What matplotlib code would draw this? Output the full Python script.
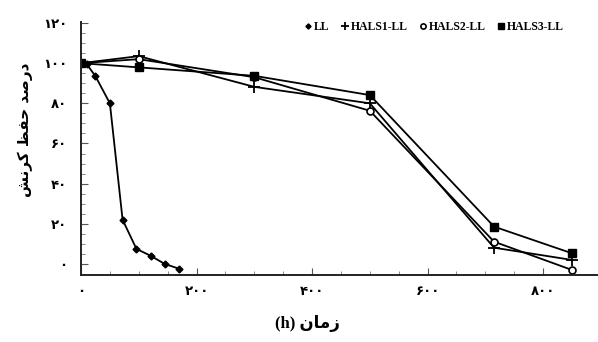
import matplotlib
matplotlib.use('Agg')
import matplotlib.pyplot as plt
from matplotlib.ticker import MultipleLocator

# data
ll_x = [0, 10, 25, 50, 72, 96, 121, 145, 169]
ll_y = [100, 99.5, 93.5, 80, 22, 7.5, 4, 0, -2.3]

hals_x = [0, 100, 300, 500, 715, 850]
hals1_y = [100, 103.5, 88.2, 80, 8.1, 2]
hals2_y = [100, 102, 93, 76.3, 11.1, -3]
hals3_y = [100, 97.9, 93.7, 84.1, 18.6, 5.3]

series_names = ['LL', 'HALS1-LL', 'HALS2-LL', 'HALS3-LL']

x_ticks = [0, 200, 400, 600, 800]
x_tick_labels = ['۰', '۲۰۰', '۴۰۰', '۶۰۰', '۸۰۰']
y_ticks = [0, 20, 40, 60, 80, 100, 120]
y_tick_labels = ['۰', '۲۰', '۴۰', '۶۰', '۸۰', '۱۰۰', '۱۲۰']

# pre-shaped Persian text (visual order, presentation forms)
x_label = '(h) ' + '\uFEE5\uFE8E\uFEE3\uFEAF'
y_label = ('\uFEB6\uFEE7\uFEAE\uFB90' + ' ' + '\uFEC6\uFED4\uFEA3' + ' '
           + '\uFEAA\uFEBB\uFEAD\uFEA9')

fig = plt.figure(figsize=(5.98, 3.42), dpi=100)
ax = fig.add_axes([81 / 598, 1 - 275 / 342, 517 / 598, 253 / 342])

lw = 1.3
ax.plot(ll_x, ll_y, color='black', lw=lw, marker='D', ms=3.5, label=series_names[0])
ax.plot(hals_x, hals1_y, color='black', lw=lw, marker='+', ms=8, mew=1.3, label=series_names[1])
ax.plot(hals_x, hals2_y, color='black', lw=lw, marker='o', ms=5, mfc='white', mew=1.2, label=series_names[2])
ax.plot(hals_x, hals3_y, color='black', lw=lw, marker='s', ms=5.5, label=series_names[3])

ax.set_xlim(0, 895)
ax.set_ylim(-5.5, 120.5)

for s in ['top', 'right']:
    ax.spines[s].set_visible(False)
for s in ['left', 'bottom']:
    ax.spines[s].set_linewidth(1.4)
    ax.spines[s].set_color('#222222')

ax.set_xticks(x_ticks)
ax.set_xticklabels(x_tick_labels, fontweight='bold', fontsize=9.5, family='DejaVu Sans')
ax.set_yticks(y_ticks)
ax.set_yticklabels(y_tick_labels, fontweight='bold', fontsize=9.5, family='DejaVu Sans')
ax.xaxis.set_minor_locator(MultipleLocator(50))
ax.yaxis.set_minor_locator(MultipleLocator(5))
ax.tick_params(which='major', direction='in', length=5, width=0.8, color='#555555')
ax.tick_params(which='minor', direction='in', length=3, width=0.6, color='#777777')
ax.tick_params(axis='x', which='major', pad=7)
ax.tick_params(axis='y', which='major', pad=10)

leg = ax.legend(loc='upper right', bbox_to_anchor=(0.955, 1.045), ncol=4, frameon=False,
                handlelength=0.6, handletextpad=0.2, columnspacing=1.0, markerscale=0.75,
                prop={'family': 'Liberation Serif', 'weight': 'bold', 'size': 8.5})
for h in leg.get_lines():
    h.set_linestyle('none')

fig.text(307 / 598, 1 - 323 / 342, x_label, ha='center', va='center',
         fontsize=12, fontweight='bold', family=['Liberation Serif', 'DejaVu Sans'])
fig.text(25 / 598, 1 - 130 / 342, y_label, ha='center', va='center', rotation=90,
         fontsize=11, fontweight='bold', family=['DejaVu Sans'])

fig.savefig('out.png', dpi=100)
